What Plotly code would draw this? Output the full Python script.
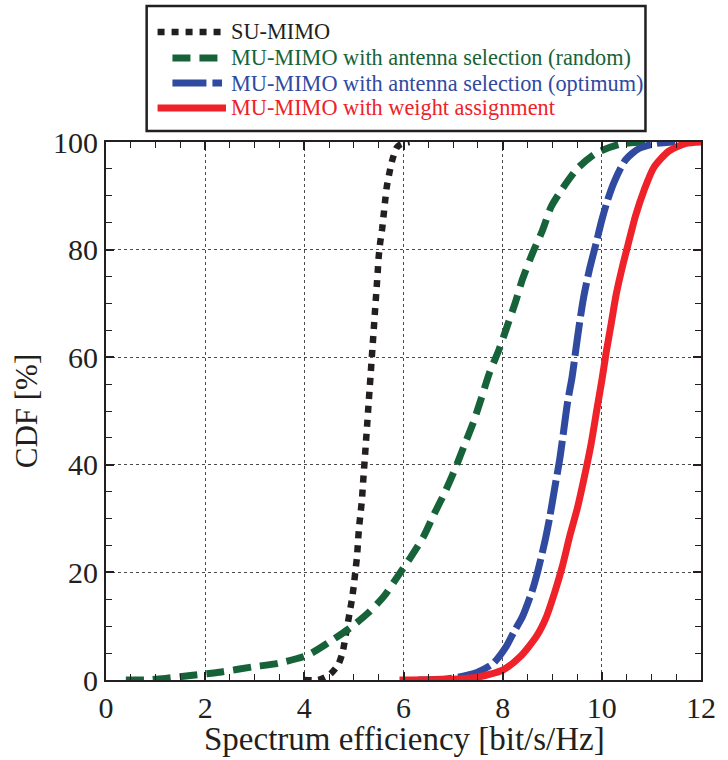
import plotly.graph_objects as go

# ---------------- data ----------------
su_x = [4.0, 4.28, 4.51, 4.68, 4.77, 4.86, 4.91, 4.96, 5.0, 5.03, 5.06, 5.08, 5.1, 5.13,
        5.16, 5.18, 5.2, 5.22, 5.24, 5.26, 5.28, 5.3, 5.32, 5.34, 5.36, 5.38, 5.4, 5.42,
        5.44, 5.46, 5.48, 5.5, 5.53, 5.57, 5.6, 5.63, 5.66, 5.71, 5.77, 5.86, 5.95, 6.12]
su_y = [0, 0, 1, 2.8, 5.1, 9.7, 12.3, 15, 17.7, 20.3, 22.7, 25.3, 28, 30.7,
        33.3, 36, 38.7, 41.2, 43.9, 46.5, 49.2, 51.9, 54.5, 57.1, 59.9, 62.5, 65.2, 67.9,
        70.5, 73.2, 75.9, 78.7, 81.3, 83.9, 86.5, 89.1, 91.5, 94, 96.5, 98.9, 99.6, 100]

rand_x = [0.4, 0.8, 1.2, 1.75, 2.33, 2.93, 3.47, 4.06, 4.51, 4.91, 5.28, 5.6, 5.9, 6.15,
          6.4, 6.61, 6.83, 7.03, 7.23, 7.41, 7.57, 7.73, 7.93, 8.1, 8.25, 8.4, 8.6, 8.8,
          8.98, 9.21, 9.51, 9.88, 10.37, 10.87]
rand_y = [0, 0, 0.3, 0.9, 1.5, 2.4, 3.1, 4.6, 7.1, 9.6, 12.4, 15.5, 19.5, 22.9,
          26.6, 30.7, 34.8, 39, 43.7, 47.9, 52.4, 57, 61.5, 66, 70, 74.5, 79.3, 83.5,
          88, 91.4, 95.1, 97.9, 99.6, 100]

opt_x = [6.3, 6.95, 7.48, 7.81, 8.07, 8.23, 8.4, 8.6, 8.71, 8.85, 8.95, 9.05, 9.15, 9.23,
         9.31, 9.4, 9.48, 9.55, 9.63, 9.75, 9.88, 10.0, 10.12, 10.25, 10.48, 10.75,
         11.08, 11.48]
opt_y = [0, 0.3, 1.4, 3.1, 6.2, 9, 11.8, 16.7, 20.3, 25.7, 30.3, 35.7, 41, 46.3,
         51.7, 56.3, 61.7, 66.3, 71, 76.3, 81, 85.5, 89.3, 92.6, 96.7, 98.8,
         99.7, 100]

wa_x = [5.92, 7.08, 7.48, 8.01, 8.35, 8.68, 8.88, 9.05, 9.2, 9.36, 9.5, 9.63, 9.78, 9.9,
        10.0, 10.09, 10.19, 10.29, 10.42, 10.55, 10.68, 10.85, 11.05, 11.35, 11.68, 12.0]
wa_y = [0, 0.2, 0.5, 1.9, 4.3, 8.1, 11.7, 16.3, 21, 27, 31.7, 37, 43.7, 50.3,
        55.7, 61, 66.3, 71.7, 77, 81.7, 86.3, 91, 95.3, 98.3, 99.7, 100]

series_names = ["SU-MIMO",
                "MU-MIMO with antenna selection (random)",
                "MU-MIMO with antenna selection (optimum)",
                "MU-MIMO with weight assignment"]
x_tick_vals = [0, 2, 4, 6, 8, 10, 12]
y_tick_vals = [0, 20, 40, 60, 80, 100]
x_title = "Spectrum efficiency [bit/s/Hz]"
y_title = "CDF [%]"

# ---------------- styling ----------------
INK = "#231f20"
colors = ["#231f20", "#16633a", "#2f4a9f", "#ee2228"]
widths = [6.5, 7, 7, 7]
dashes = ["7px,7px", "18px,9px", "34px,6px", "solid"]
FONT = "Liberation Serif, Times New Roman, serif"

fig = go.Figure()
for xs, ys, name, c, w, d in zip([su_x, rand_x, opt_x, wa_x], [su_y, rand_y, opt_y, wa_y],
                                 series_names, colors, widths, dashes):
    fig.add_trace(go.Scatter(x=xs, y=ys, mode="lines", name=name, showlegend=False,
                             cliponaxis=False,
                             line=dict(color=c, width=w, dash=d,
                                       shape="spline", smoothing=0.7)))

axis_common = dict(
    ticks="inside", ticklen=8, tickwidth=1.5, tickcolor=INK,
    showline=True, linecolor=INK, linewidth=2, mirror="ticks",
    showgrid=True, gridcolor="#4a4a4a", griddash="dot", gridwidth=1,
    zeroline=False,
    tickfont=dict(family=FONT, size=30, color=INK),
)

fig.update_layout(
    width=728, height=760,
    margin=dict(l=106, r=22, t=142, b=80),
    plot_bgcolor="white", paper_bgcolor="white",
    xaxis=dict(range=[0, 12], tickmode="array", tickvals=x_tick_vals,
               minor=dict(dtick=0.5, ticks="inside", ticklen=6, tickwidth=1.2,
                          tickcolor=INK, showgrid=False),
               **axis_common),
    yaxis=dict(range=[0, 100], tickmode="array", tickvals=y_tick_vals,
               minor=dict(dtick=5, ticks="inside", ticklen=6, tickwidth=1.2,
                          tickcolor=INK, showgrid=False),
               title=dict(text=y_title, standoff=6,
                          font=dict(family=FONT, size=31, color=INK)),
               **axis_common),
)

# ---------------- manual legend box & x title ----------------
def px_x(p):
    return (p - 106) / 600.0

def px_y(p):
    return (680 - p) / 538.0

shapes = [dict(type="rect", xref="paper", yref="paper",
               x0=px_x(147), x1=px_x(650), y0=px_y(131), y1=px_y(6),
               line=dict(color=INK, width=2.5), fillcolor="white", layer="above")]
rows = [32, 58, 83, 108]
starts = [158, 173, 173, 158]
ends = [225, 223, 223, 227]
annotations = [dict(xref="paper", yref="paper", x=px_x(407), y=px_y(739),
                    xanchor="center", yanchor="middle", showarrow=False,
                    text=x_title, font=dict(family=FONT, size=33, color=INK))]
for i in range(4):
    shapes.append(dict(type="line", xref="paper", yref="paper",
                       x0=px_x(starts[i]), x1=px_x(ends[i]),
                       y0=px_y(rows[i]), y1=px_y(rows[i]),
                       line=dict(color=colors[i], width=widths[i], dash=dashes[i])))
    annotations.append(dict(xref="paper", yref="paper", x=px_x(230), y=px_y(rows[i]),
                            xanchor="left", yanchor="middle", showarrow=False,
                            text=series_names[i],
                            font=dict(family=FONT, size=22.3, color=colors[i])))
fig.update_layout(shapes=shapes, annotations=annotations)

fig.write_html("out.html")
